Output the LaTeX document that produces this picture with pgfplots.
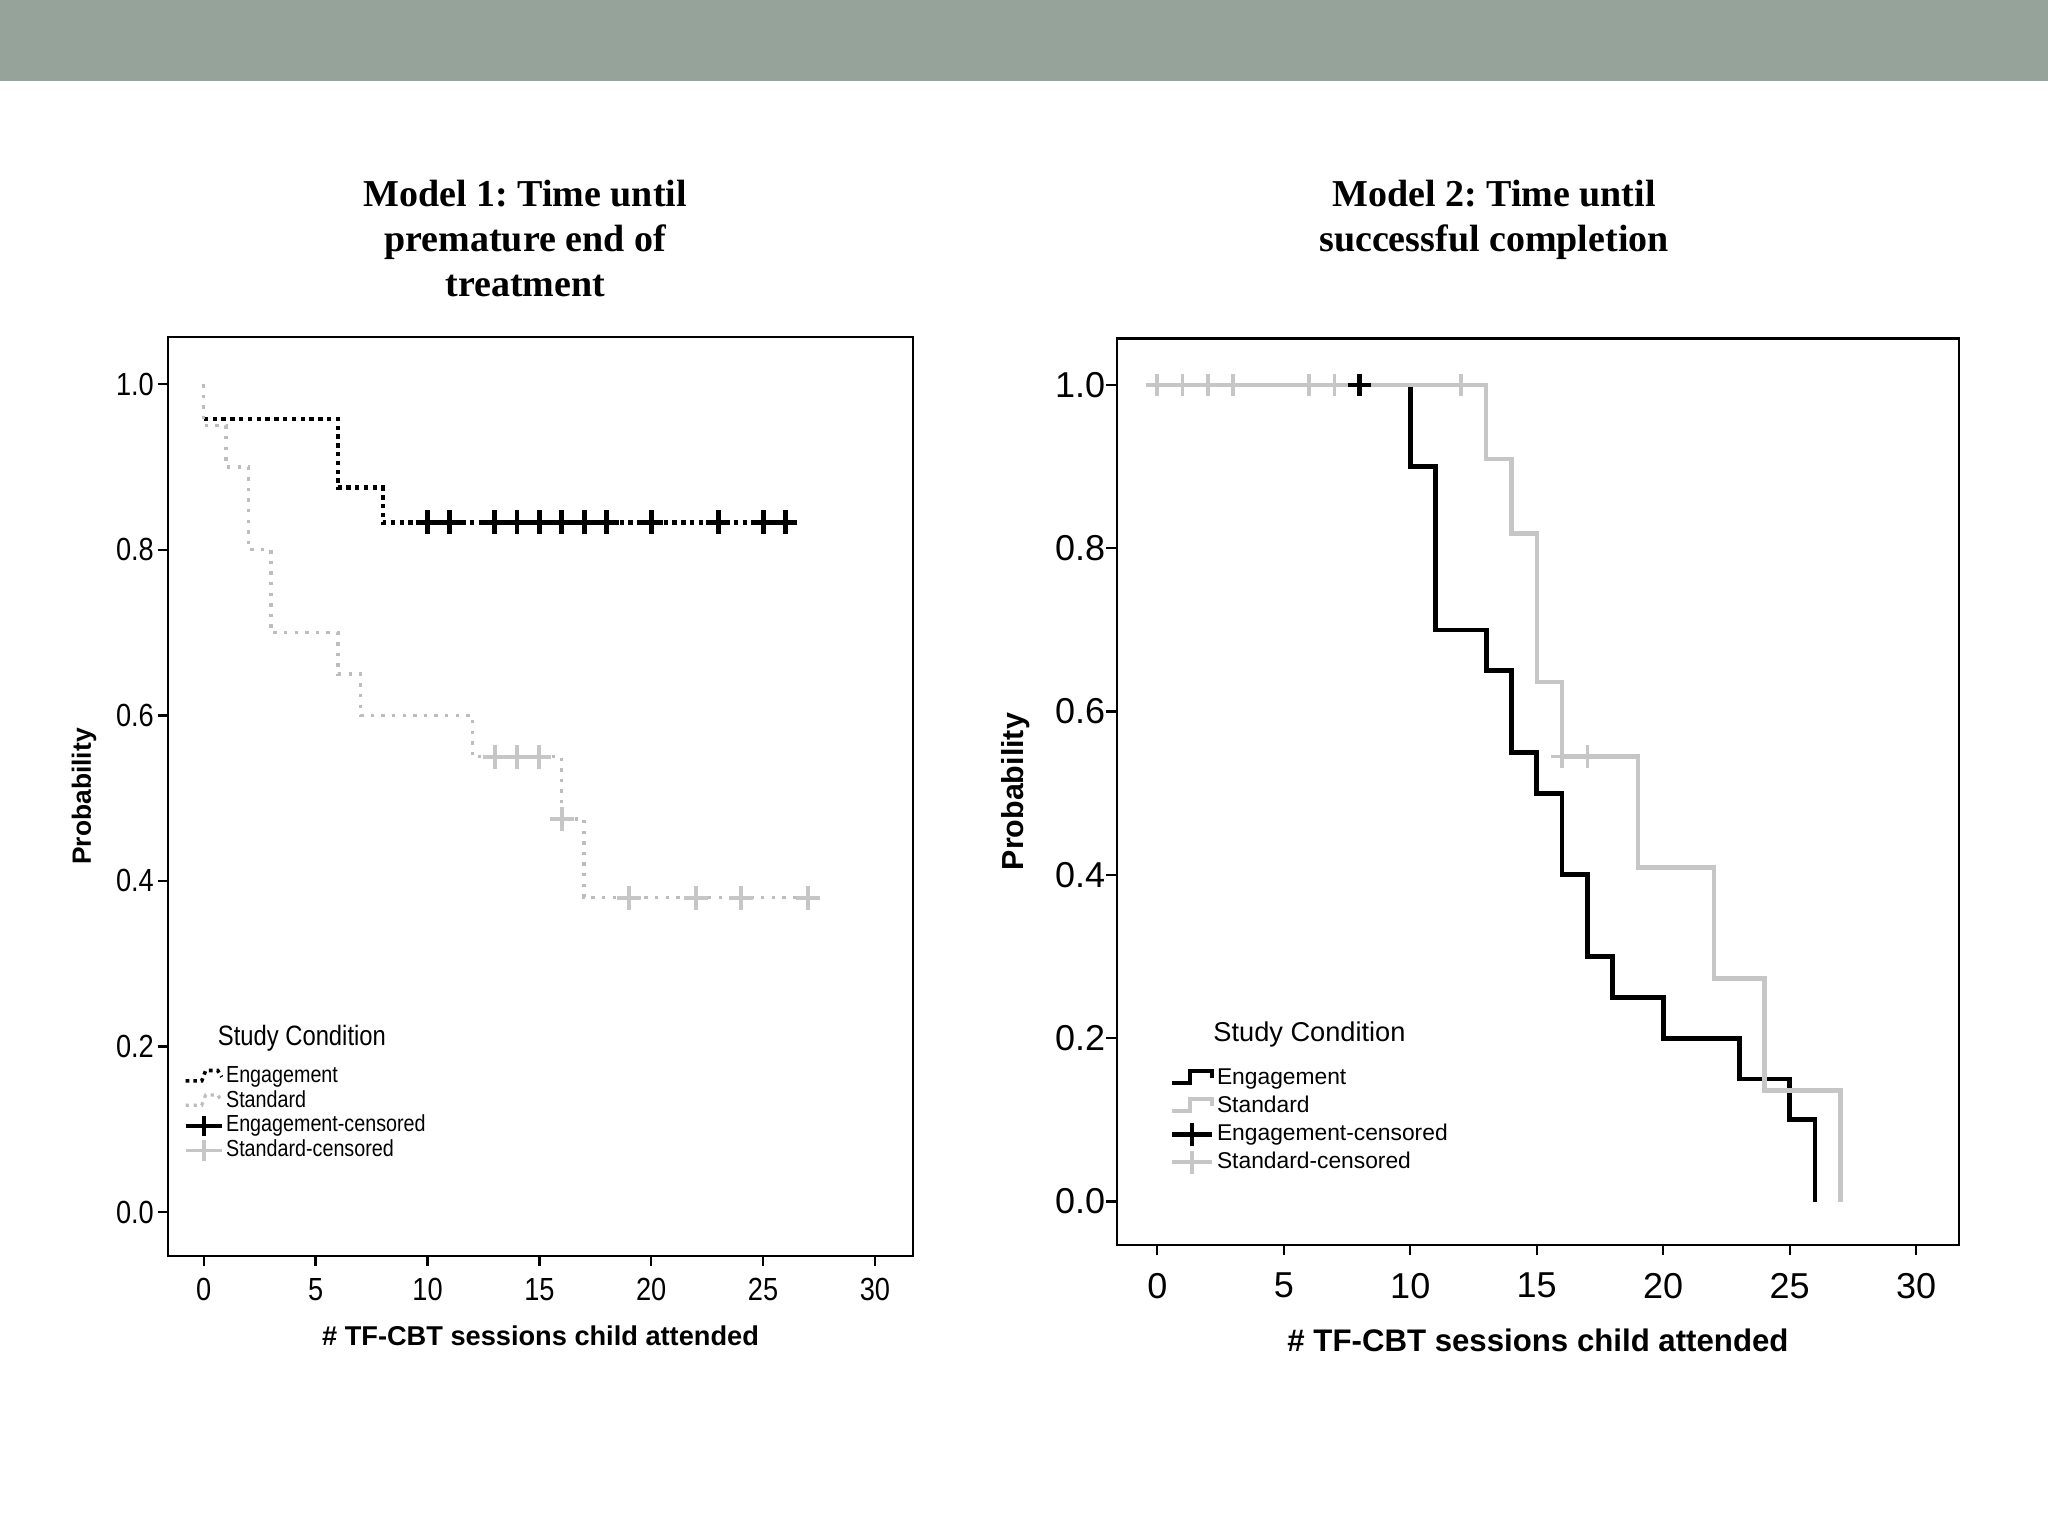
\documentclass[border=0pt]{standalone}
\usepackage{fontspec}
\setmainfont{Liberation Serif}
\setsansfont{Liberation Sans}
\newfontfamily\narrow[FakeStretch=0.85]{Liberation Sans}
\usepackage{pgfplots}
\pgfplotsset{compat=1.18}
\definecolor{banner}{HTML}{95A39B}
\definecolor{lgray}{HTML}{BDBDBD}
\definecolor{cgray}{HTML}{C6C6C6}
\frenchspacing

\pgfplotsset{
  km/.style={
    scale only axis, anchor=south west,
    xmin=-1.6, xmax=31.7, ymin=-0.053, ymax=1.057,
    xtick={0,5,10,15,20,25,30}, ytick={0,0.2,0.4,0.6,0.8,1},
    tick pos=left, tick align=outside, major tick length=2.6pt,
    axis line style={line width=0.6pt},
    every tick/.style={black, line width=0.6pt},
    yticklabel style={/pgf/number format/fixed, /pgf/number format/fixed zerofill, /pgf/number format/precision=1},
    /pgf/number format/assume math mode=true,
    legend cell align=left,
    xlabel style={at={(axis description cs:0.5,0)}, anchor=center},
    ylabel style={at={(axis description cs:0,0.5)}, anchor=center},
  }
}

\begin{document}
\begin{tikzpicture}
\useasboundingbox (0pt,0pt) rectangle (512pt,384pt);
\fill[white] (0pt,0pt) rectangle (512pt,384pt);
\fill[banner] (0pt,363.75pt) rectangle (512pt,384pt);

\node[font=\bfseries\fontsize{9.5}{11.3}\selectfont, align=center] at (131.3pt,324.4pt)
  {Model 1: Time until\\premature end of\\treatment};
\node[font=\bfseries\fontsize{9.5}{11.3}\selectfont, align=center] at (373.5pt,329pt)
  {Model 2: Time until\\successful completion};

% Model 1
\begin{axis}[km, at={(42pt,70pt)}, width=186.25pt, height=229.75pt,
  ticklabel style={font=\narrow\fontsize{8}{9}\selectfont},
  yticklabel style={xshift=2.6pt},
  xticklabel style={yshift=0.5pt},
  xlabel={\# TF-CBT sessions child attended},
  ylabel={Probability},
  xlabel style={yshift=-20pt, font=\sffamily\bfseries\fontsize{6.8}{8}\selectfont},
  ylabel style={yshift=21pt, font=\sffamily\bfseries\fontsize{6.6}{8}\selectfont},
  legend style={at={(axis description cs:0.02,0.209)}, anchor=north west,
    draw=none, fill=none, inner sep=0pt, row sep=0pt, column sep=0pt,
    font=\narrow\fontsize{5.8}{6}\selectfont,
    nodes={inner sep=0.6pt, text height=3.9pt, text depth=1pt}},
]
\addplot[black, line width=1.1pt, dash pattern=on 1.1pt off 1.1pt, const plot,
  legend image code/.code={\draw[black,line width=0.9pt,dash pattern=on 0.9pt off 1pt] (0pt,-1pt) -- (4pt,-1pt) -- (5pt,1.6pt) -- (8pt,1.6pt) -- (9pt,0pt);}]
  coordinates {(0,0.958) (6,0.875) (8,0.833) (26.2,0.833)};
\addlegendentry{Engagement}
\addplot[lgray, line width=0.85pt, dash pattern=on 0.85pt off 1.8pt, const plot,
  legend image code/.code={\draw[lgray,line width=0.8pt,dash pattern=on 0.8pt off 1.2pt] (0pt,-1pt) -- (4pt,-1pt) -- (5pt,1.6pt) -- (8pt,1.6pt) -- (9pt,0pt);}]
  coordinates {(0,1) (0,0.95) (1,0.90) (2,0.80) (3,0.70) (6,0.65) (7,0.60) (12,0.55) (16,0.475) (17,0.38) (27,0.38)};
\addlegendentry{Standard}
\addplot[only marks, mark=+, mark size=3pt, black, mark options={line width=1.2pt},
  legend image code/.code={\draw[black,line width=1pt] (0pt,0pt) -- (9pt,0pt); \draw[black,line width=1pt] (4.5pt,-2.6pt) -- (4.5pt,2.6pt);}]
  coordinates {(10,0.833) (11,0.833) (13,0.833) (14,0.833) (15,0.833) (16,0.833) (17,0.833) (18,0.833) (20,0.833) (23,0.833) (25,0.833) (26,0.833)};
\addlegendentry{Engagement-censored}
\addplot[only marks, mark=+, mark size=3pt, cgray, mark options={line width=1pt},
  legend image code/.code={\draw[cgray,line width=0.9pt] (0pt,0pt) -- (9pt,0pt); \draw[cgray,line width=0.9pt] (4.5pt,-2.6pt) -- (4.5pt,2.6pt);}]
  coordinates {(13,0.55) (14,0.55) (15,0.55) (16,0.475) (19,0.38) (22,0.38) (24,0.38) (27,0.38)};
\addlegendentry{Standard-censored}
\node[font=\narrow\fontsize{7}{8}\selectfont, anchor=west] at (axis description cs:0.048,0.237) {Study Condition};
\end{axis}

% Model 2
\begin{axis}[km, at={(279.2pt,72.8pt)}, width=210.6pt, height=226.6pt,
  ticklabel style={font=\sffamily\fontsize{9}{10}\selectfont},
  yticklabel style={xshift=3.2pt},
  xticklabel style={yshift=-0.9pt},
  xlabel={\# TF-CBT sessions child attended},
  ylabel={Probability},
  xlabel style={yshift=-23.8pt, font=\sffamily\bfseries\fontsize{7.8}{9}\selectfont},
  ylabel style={yshift=25.2pt, font=\sffamily\bfseries\fontsize{7.6}{9}\selectfont},
  legend style={at={(axis description cs:0.062,0.200)}, anchor=north west,
    draw=none, fill=none, inner sep=0pt, row sep=0pt, column sep=0pt,
    font=\sffamily\fontsize{5.7}{7}\selectfont,
    nodes={inner sep=0.7pt, text height=4.3pt, text depth=1.3pt}},
]
\addplot[black, line width=1.2pt, const plot,
  legend image code/.code={\draw[black,line width=1.1pt] (0pt,-1.2pt) -- (4.5pt,-1.2pt) -- (4.5pt,1.8pt) -- (10pt,1.8pt) -- (10pt,0pt);}]
  coordinates {(0,1) (10,0.9) (11,0.7) (13,0.65) (14,0.55) (15,0.5) (16,0.4) (17,0.3) (18,0.25) (20,0.2) (23,0.15) (25,0.1) (26,0)};
\addlegendentry{Engagement}
\addplot[cgray, line width=1.1pt, const plot,
  legend image code/.code={\draw[cgray,line width=1.1pt] (0pt,-1.2pt) -- (4.5pt,-1.2pt) -- (4.5pt,1.8pt) -- (10pt,1.8pt) -- (10pt,0pt);}]
  coordinates {(0,1) (13,0.909) (14,0.818) (15,0.636) (16,0.545) (19,0.409) (22,0.273) (24,0.136) (27,0)};
\addlegendentry{Standard}
\addplot[only marks, mark=+, mark size=2.8pt, black, mark options={line width=1.2pt},
  legend image code/.code={\draw[black,line width=1.1pt] (0pt,0pt) -- (10pt,0pt); \draw[black,line width=1.1pt] (5pt,-2.8pt) -- (5pt,2.8pt);}]
  coordinates {(8,1)};
\addlegendentry{Engagement-censored}
\addplot[only marks, mark=+, mark size=2.8pt, cgray, mark options={line width=0.9pt},
  legend image code/.code={\draw[cgray,line width=1pt] (0pt,0pt) -- (10pt,0pt); \draw[cgray,line width=1pt] (5pt,-2.8pt) -- (5pt,2.8pt);}]
  coordinates {(0,1) (1,1) (2,1) (3,1) (6,1) (7,1) (12,1) (16,0.545) (17,0.545)};
\addlegendentry{Standard-censored}
\node[font=\sffamily\fontsize{6.8}{8}\selectfont, anchor=west] at (axis description cs:0.098,0.232) {Study Condition};
\end{axis}
\end{tikzpicture}
\end{document}
